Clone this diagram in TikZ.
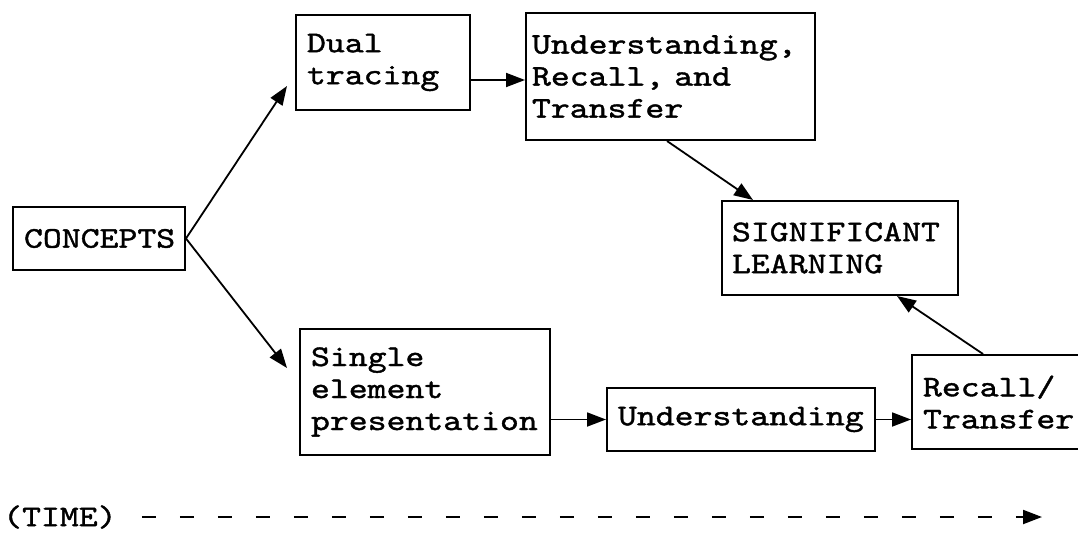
\documentclass[tikz,border=0pt]{standalone}
\usepackage{fontspec}
\newfontfamily\courfont[Extension=.otf, FakeStretch=1.2, FakeBold=1.3]{lmmono10-regular}
\usetikzlibrary{arrows.meta,calc}
\begin{document}
\begin{tikzpicture}[x=1pt,y=-1pt,
  txt/.style={font=\courfont\fontsize{30pt}{32pt}\selectfont},
  box/.style={draw, line width=2pt, rectangle, align=left, inner xsep=11pt, inner ysep=0pt, txt},
  arr/.style={line width=1.8pt, -{Triangle[length=19pt,width=14pt]}}]
\useasboundingbox (0,0) rectangle (1078,535);

\node[box, text width=150pt, minimum height=63pt] (concepts) at (99,238.5) {CONCEPTS};
\node[box, text width=152pt, minimum height=95pt] (dual) at (383,62.5) {Dual\\tracing};
\node[box, inner xsep=6pt, text width=277pt, minimum height=127pt] (urt) at (670.5,76.5) {Understanding,\\Recall, and\\Transfer};
\node[box, inner xsep=10pt, text width=216pt, minimum height=94pt] (sig) at (840,248) {SIGNIFICANT\\LEARNING};
\node[box, text width=228pt, minimum height=126pt] (single) at (425,392) {Single\\element\\presentation};
\node[box, text width=246pt, minimum height=63pt] (und) at (741,419.5) {Understanding};
\node[box, text width=178pt, minimum height=94pt] (recall) at (1012,402) {Recall/\\Transfer};

\coordinate (tipdual) at (287,86);
\coordinate (tipsingle) at (287,368);
\draw[arr] (concepts.east) -- (tipdual);
\draw[arr] (concepts.east) -- (tipsingle);
\draw[arr] (dual.east |- 0,80) -- (urt.west |- 0,80);
\draw[arr] (urt.south -| 667,0) -- (sig.north -| 753,0);
\draw[arr] (single.east |- und.west) -- (und.west);
\draw[arr] (und.east) -- (recall.west |- und.east);
\draw[arr] (recall.north -| 983,0) -- (sig.south -| 897,0);

\node[txt, anchor=west, inner sep=0pt] (time) at (3,517) {(TIME)};
\coordinate (timeend) at (1042,517);
\draw[line width=2pt, dash pattern=on 14pt off 24pt, -{Triangle[length=19pt,width=14pt]}] ($(time.east)+(25,0)$) -- (timeend);
\end{tikzpicture}
\end{document}
